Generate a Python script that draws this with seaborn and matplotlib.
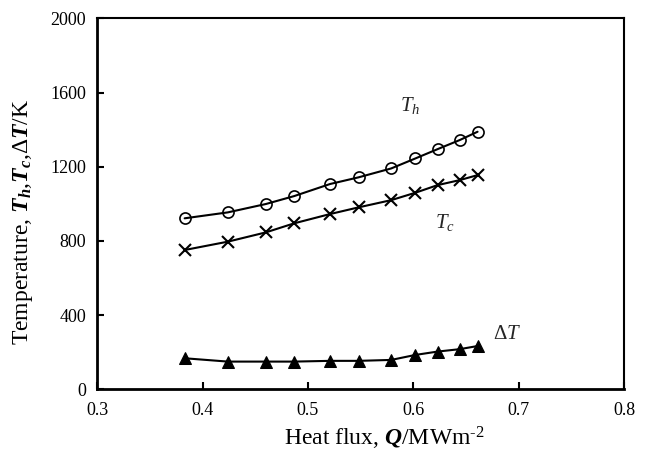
import numpy as np
import pandas as pd
import seaborn as sns
import matplotlib
matplotlib.use("Agg")
import matplotlib.pyplot as plt

# values
heat_flux = [0.383, 0.424, 0.460, 0.487, 0.521, 0.548, 0.579, 0.602, 0.623, 0.644, 0.661]
temp_hot = [922, 954, 999, 1042, 1107, 1143, 1191, 1245, 1295, 1344, 1389]
temp_cold = [751, 796, 846, 895, 945, 981, 1020, 1060, 1101, 1128, 1155]
temp_diff = [167, 149, 149, 149, 153, 153, 158, 185, 203, 216, 233]

x_ticks = [0.3, 0.4, 0.5, 0.6, 0.7, 0.8]
y_ticks = [0, 400, 800, 1200, 1600, 2000]

df = pd.DataFrame({"Q": heat_flux, "Th": temp_hot, "Tc": temp_cold, "dT": temp_diff})

sns.set_theme(style="ticks")
plt.rcParams["font.family"] = ["Liberation Serif", "DejaVu Serif"]
plt.rcParams["mathtext.fontset"] = "custom"
plt.rcParams["mathtext.rm"] = "Liberation Serif"
plt.rcParams["mathtext.it"] = "Liberation Serif:italic"
plt.rcParams["mathtext.bf"] = "Liberation Serif:bold:italic"

fig = plt.figure(figsize=(6.48, 4.51), dpi=100)
ax = fig.add_axes([0.150, 0.137, 0.813, 0.822])

sns.lineplot(data=df, x="Q", y="Th", ax=ax, color="black", linewidth=1.5,
             marker="o", markersize=8, markerfacecolor="none",
             markeredgecolor="black", markeredgewidth=1.2)
sns.lineplot(data=df, x="Q", y="Tc", ax=ax, color="black", linewidth=1.5,
             marker="x", markersize=8.5, markeredgecolor="black",
             markeredgewidth=1.5)
sns.lineplot(data=df, x="Q", y="dT", ax=ax, color="black", linewidth=1.5,
             marker="^", markersize=9, markerfacecolor="black",
             markeredgecolor="black")

ax.text(0.597, 1533, "$T_h$", fontsize=15, ha="center", va="center")
ax.text(0.630, 897, "$T_c$", fontsize=15, ha="center", va="center")
ax.text(0.676, 293, r"$\Delta T$", fontsize=15, ha="left", va="center")

ax.set_xlim(0.3, 0.8)
ax.set_ylim(0, 2000)
ax.set_xticks(x_ticks)
ax.set_yticks(y_ticks)
ax.set_xticklabels([f"{v:.1f}" for v in x_ticks])
ax.set_yticklabels([str(v) for v in y_ticks])
ax.tick_params(direction="in", length=5, width=1.5, labelsize=13, color="black",
               labelcolor="black", top=False, right=False)
ax.tick_params(axis="x", pad=9)
ax.tick_params(axis="y", pad=8)
for side in ["left", "bottom"]:
    ax.spines[side].set_linewidth(2.0)
for side in ["top", "right"]:
    ax.spines[side].set_visible(True)
    ax.spines[side].set_linewidth(1.5)
for sp in ax.spines.values():
    sp.set_color("black")

ax.set_xlabel("Heat flux, $\\mathbf{Q}$/MWm$^{\\text{-2}}$", fontsize=17, color="black")
ax.set_ylabel("Temperature, $\\mathbf{T_h}$,$\\mathbf{T_c}$,$\\Delta\\mathbf{T}$/K",
              fontsize=17, color="black")
ax.xaxis.set_label_coords(0.545, -0.095)
ax.yaxis.set_label_coords(-0.118, 0.451)

fig.savefig("out.png", dpi=100, facecolor="white")
